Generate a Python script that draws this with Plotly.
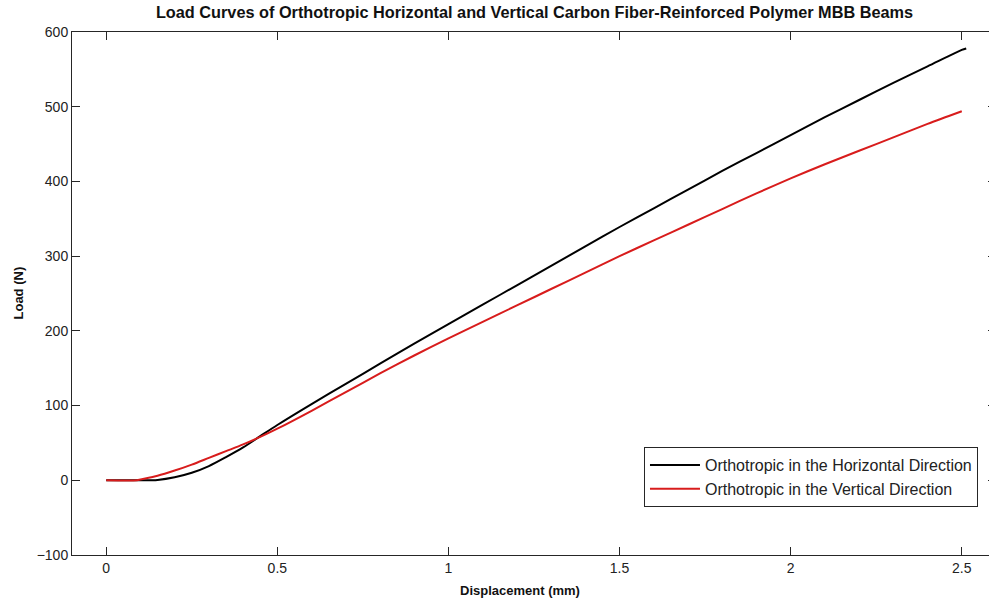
import plotly.graph_objects as go

# Displacement (mm)
x_h = [0, 0.10, 0.15, 0.20, 0.25, 0.30, 0.35, 0.40, 0.45, 0.50, 0.60, 0.70, 0.80, 0.90,
       1.00, 1.10, 1.20, 1.30, 1.40, 1.50, 1.60, 1.70, 1.80, 1.90, 2.00, 2.10, 2.20,
       2.30, 2.40, 2.50, 2.513]
# Load (N) - Orthotropic in the Horizontal Direction
y_h = [0, 0, 0.5, 4, 10, 19, 31, 44, 59, 74, 102, 129, 156, 183,
       209, 235, 261, 287, 313, 339, 364, 389, 414, 438, 462, 486, 509,
       532, 554, 576, 578]

x_v = [0, 0.09, 0.10, 0.15, 0.20, 0.25, 0.30, 0.35, 0.40, 0.45, 0.50, 0.60, 0.70, 0.80,
       0.90, 1.00, 1.10, 1.20, 1.30, 1.40, 1.50, 1.60, 1.70, 1.80, 1.90, 2.00, 2.10,
       2.20, 2.30, 2.40, 2.50]
# Load (N) - Orthotropic in the Vertical Direction
y_v = [0, 0, 1, 6, 13, 21, 30, 39, 48, 58, 69, 93, 118, 143,
       167, 190, 212, 234, 256, 278, 300, 321, 342, 363, 384, 404, 423,
       441, 459, 477, 494]

x_ticks = [0, 0.5, 1, 1.5, 2, 2.5]
x_ticklabels = ["0", "0.5", "1", "1.5", "2", "2.5"]
y_ticks = [-100, 0, 100, 200, 300, 400, 500, 600]

FONT = "Liberation Sans, Arial, sans-serif"
AX = "#262626"

fig = go.Figure()
fig.add_trace(go.Scatter(x=x_h, y=y_h, mode="lines", name="Orthotropic in the Horizontal Direction",
                         line=dict(color="#000000", width=2, shape="spline", smoothing=0.8)))
fig.add_trace(go.Scatter(x=x_v, y=y_v, mode="lines", name="Orthotropic in the Vertical Direction",
                         line=dict(color="#d81c1c", width=2, shape="spline", smoothing=0.8)))

axis_common = dict(showgrid=False, zeroline=False, showline=True, linecolor=AX, linewidth=1,
                   mirror="ticks", ticks="inside", ticklen=8, tickcolor=AX, tickwidth=1,
                   tickfont=dict(family=FONT, size=14, color="#222222"))

fig.update_xaxes(range=[-0.1, 2.6], tickvals=x_ticks, ticktext=x_ticklabels, **axis_common)
fig.update_yaxes(range=[-100, 600], tickvals=y_ticks, **axis_common)

fig.update_layout(
    width=1000, height=600,
    margin=dict(l=72, r=4, t=32, b=45),
    paper_bgcolor="white", plot_bgcolor="white",
    title=dict(text="<b>Load Curves of Orthotropic Horizontal and Vertical Carbon Fiber-Reinforced Polymer MBB Beams</b>",
               font=dict(family=FONT, size=16.3, color="#111111"), x=0.5345, xanchor="center",
               y=0.98, yanchor="middle"),
    legend=dict(x=0.9805, y=0.0918, xanchor="right", yanchor="bottom",
                bgcolor="white", bordercolor=AX, borderwidth=1,
                font=dict(family=FONT, size=16, color="#222222"),
                tracegroupgap=0, itemwidth=50),
    annotations=[
        dict(text="<b>Displacement (mm)</b>", xref="paper", yref="paper",
             x=(520 - 72) / 924, y=-(590 - 555) / 523, xanchor="center", yanchor="middle",
             showarrow=False, font=dict(family=FONT, size=13, color="#111111")),
        dict(text="<b>Load (N)</b>", xref="paper", yref="paper",
             x=-(72 - 18) / 924, y=0.5, xanchor="center", yanchor="middle", textangle=-90,
             showarrow=False, font=dict(family=FONT, size=13, color="#111111")),
    ],
    showlegend=True,
)

fig.write_html("out.html", config={"displayModeBar": False},
               post_script="document.body.style.margin='0';document.body.style.overflow='hidden';")
